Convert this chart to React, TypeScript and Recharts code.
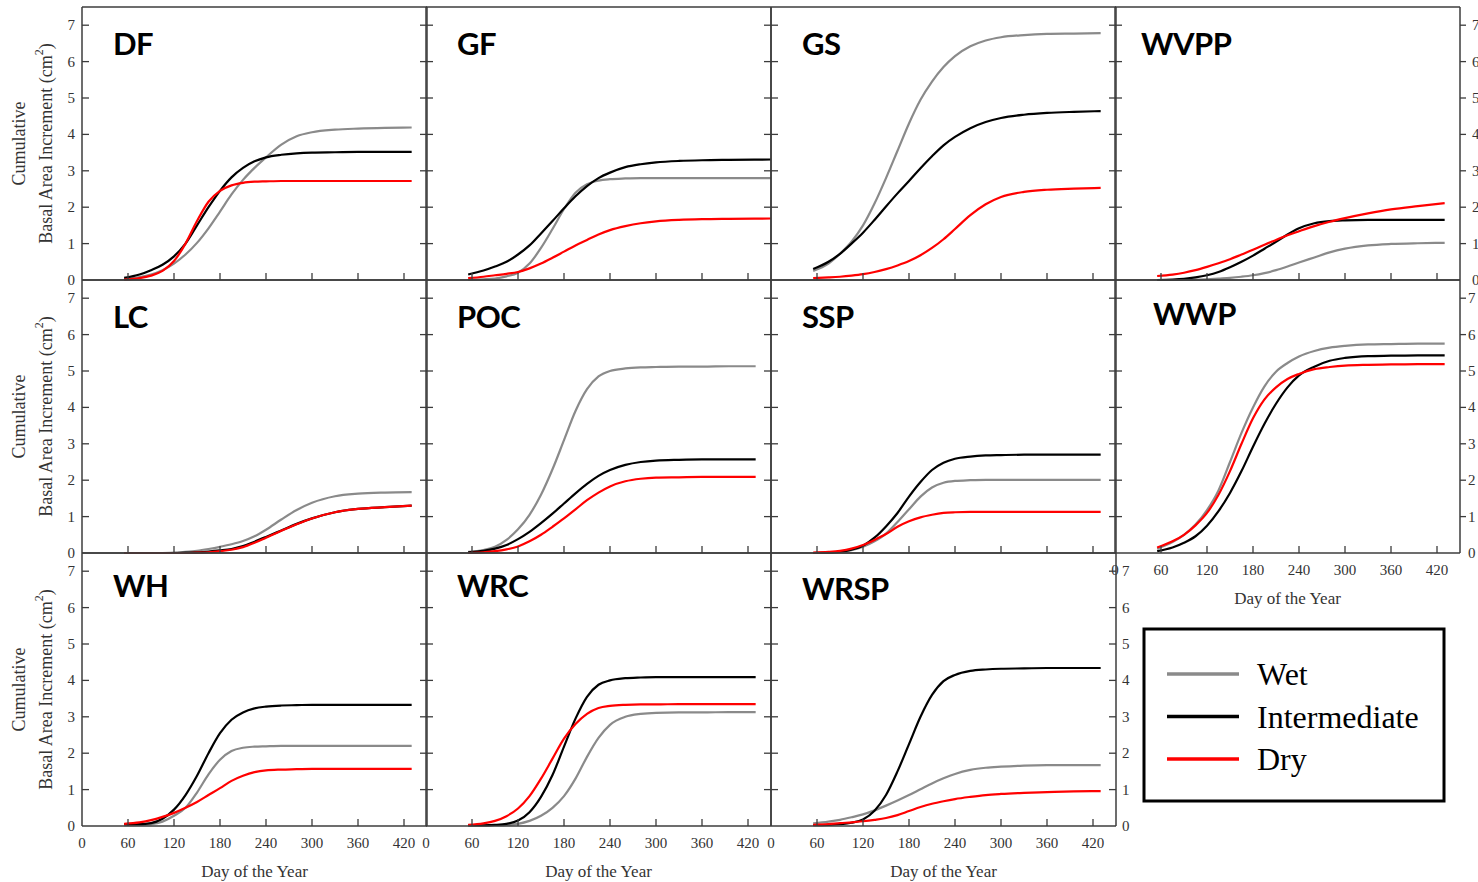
import React from "react";
import { LineChart, Line, XAxis, YAxis } from "recharts";

// sample days (x); GF runs to the frame
const days = [55, 75, 90, 105, 120, 135, 150, 165, 180, 195, 210, 225, 240, 260, 280, 300, 330, 360, 395, 430];
const daysGF = [55, 75, 90, 105, 120, 135, 150, 165, 180, 195, 210, 225, 240, 260, 280, 300, 330, 360, 395, 450];

const dayTicks = [0, 60, 120, 180, 240, 300, 360, 420];
const baiTicks = [0, 1, 2, 3, 4, 5, 6, 7];

const seriesNames = ["Wet", "Intermediate", "Dry"];
const seriesColors = ["#8a8a8a", "#000000", "#ff0000"];

// cumulative basal area increment (cm2)
const dfWet = [0.03, 0.08, 0.15, 0.27, 0.45, 0.7, 1.02, 1.42, 1.88, 2.35, 2.75, 3.08, 3.37, 3.72, 3.95, 4.06, 4.13, 4.16, 4.18, 4.19];
const dfMid = [0.06, 0.15, 0.27, 0.42, 0.65, 1.0, 1.5, 2.0, 2.45, 2.82, 3.08, 3.26, 3.37, 3.44, 3.48, 3.5, 3.51, 3.52, 3.52, 3.52];
const dfDry = [0.01, 0.05, 0.12, 0.25, 0.52, 1.0, 1.62, 2.15, 2.45, 2.6, 2.67, 2.7, 2.71, 2.72, 2.72, 2.72, 2.72, 2.72, 2.72, 2.72];

const gfWet = [0.01, 0.02, 0.04, 0.1, 0.2, 0.45, 0.88, 1.4, 1.95, 2.4, 2.63, 2.73, 2.77, 2.79, 2.8, 2.8, 2.8, 2.8, 2.8, 2.8];
const gfMid = [0.15, 0.26, 0.37, 0.5, 0.7, 0.95, 1.28, 1.62, 1.97, 2.3, 2.58, 2.8, 2.95, 3.1, 3.18, 3.23, 3.27, 3.29, 3.3, 3.31];
const gfDry = [0.05, 0.09, 0.13, 0.17, 0.22, 0.32, 0.45, 0.61, 0.78, 0.95, 1.1, 1.25, 1.37, 1.48, 1.56, 1.61, 1.65, 1.67, 1.68, 1.69];

const gsWet = [0.25, 0.45, 0.72, 1.05, 1.5, 2.1, 2.8, 3.55, 4.3, 4.95, 5.45, 5.85, 6.15, 6.42, 6.58, 6.67, 6.73, 6.76, 6.77, 6.78];
const gsMid = [0.3, 0.5, 0.72, 1.0, 1.3, 1.65, 2.02, 2.38, 2.72, 3.07, 3.4, 3.7, 3.93, 4.17, 4.34, 4.45, 4.54, 4.59, 4.62, 4.64];
const gsDry = [0.05, 0.07, 0.09, 0.12, 0.16, 0.22, 0.3, 0.4, 0.52, 0.68, 0.88, 1.12, 1.4, 1.78, 2.08, 2.28, 2.42, 2.48, 2.51, 2.53];

const wvppWet = [0, 0, 0, 0.01, 0.02, 0.04, 0.06, 0.09, 0.13, 0.19, 0.27, 0.37, 0.48, 0.62, 0.76, 0.86, 0.95, 0.99, 1.01, 1.02];
const wvppMid = [0, 0.01, 0.03, 0.07, 0.13, 0.22, 0.35, 0.5, 0.67, 0.86, 1.05, 1.25, 1.42, 1.56, 1.62, 1.64, 1.65, 1.65, 1.65, 1.65];
const wvppDry = [0.11, 0.15, 0.2, 0.27, 0.36, 0.46, 0.57, 0.7, 0.83, 0.97, 1.1, 1.23, 1.34, 1.48, 1.6, 1.7, 1.83, 1.94, 2.03, 2.11];

const lcWet = [0, 0, 0, 0, 0.01, 0.03, 0.06, 0.11, 0.17, 0.24, 0.33, 0.46, 0.64, 0.92, 1.18, 1.38, 1.56, 1.63, 1.66, 1.67];
const lcMid = [0, 0, 0, 0, 0, 0.01, 0.02, 0.04, 0.07, 0.11, 0.19, 0.31, 0.44, 0.62, 0.8, 0.95, 1.12, 1.21, 1.26, 1.3];
const lcDry = [0, 0, 0, 0, 0, 0, 0.01, 0.02, 0.05, 0.09, 0.16, 0.28, 0.42, 0.61, 0.79, 0.95, 1.12, 1.21, 1.26, 1.3];

const pocWet = [0.03, 0.08, 0.17, 0.36, 0.65, 1.05, 1.6, 2.3, 3.1, 3.9, 4.5, 4.85, 5.0, 5.07, 5.1, 5.11, 5.12, 5.12, 5.13, 5.13];
const pocMid = [0.02, 0.06, 0.12, 0.22, 0.38, 0.58, 0.82, 1.08, 1.36, 1.64, 1.9, 2.12, 2.28, 2.42, 2.5, 2.54, 2.56, 2.57, 2.57, 2.57];
const pocDry = [0, 0.02, 0.05, 0.1, 0.18, 0.32, 0.5, 0.72, 0.95, 1.2, 1.45, 1.66, 1.83, 1.97, 2.04, 2.07, 2.08, 2.09, 2.09, 2.09];

const sspWet = [0, 0.01, 0.03, 0.08, 0.17, 0.32, 0.53, 0.85, 1.2, 1.55, 1.8, 1.93, 1.98, 2.0, 2.01, 2.01, 2.01, 2.01, 2.01, 2.01];
const sspMid = [0, 0.01, 0.03, 0.09, 0.2, 0.42, 0.73, 1.1, 1.55, 1.95, 2.28, 2.48, 2.59, 2.65, 2.68, 2.69, 2.7, 2.7, 2.7, 2.7];
const sspDry = [0.01, 0.03, 0.06, 0.12, 0.22, 0.36, 0.52, 0.72, 0.87, 0.98, 1.05, 1.1, 1.12, 1.13, 1.13, 1.13, 1.13, 1.13, 1.13, 1.13];

const wwpWet = [0.12, 0.3, 0.5, 0.78, 1.18, 1.72, 2.5, 3.3, 4.0, 4.58, 4.98, 5.22, 5.4, 5.55, 5.64, 5.69, 5.73, 5.74, 5.75, 5.75];
const wwpMid = [0.05, 0.15, 0.28, 0.46, 0.75, 1.15, 1.65, 2.25, 2.92, 3.55, 4.1, 4.55, 4.88, 5.12, 5.28, 5.36, 5.41, 5.42, 5.43, 5.43];
const wwpDry = [0.15, 0.32, 0.5, 0.76, 1.1, 1.6, 2.25, 3.0, 3.7, 4.22, 4.55, 4.78, 4.92, 5.05, 5.11, 5.15, 5.17, 5.18, 5.19, 5.19];

const whWet = [0.02, 0.03, 0.05, 0.12, 0.28, 0.5, 0.92, 1.42, 1.82, 2.06, 2.15, 2.18, 2.19, 2.2, 2.2, 2.2, 2.2, 2.2, 2.2, 2.2];
const whMid = [0.05, 0.05, 0.08, 0.2, 0.45, 0.85, 1.38, 2.0, 2.55, 2.92, 3.12, 3.23, 3.28, 3.31, 3.32, 3.33, 3.33, 3.33, 3.33, 3.33];
const whDry = [0.06, 0.1, 0.16, 0.25, 0.36, 0.5, 0.66, 0.85, 1.04, 1.24, 1.38, 1.48, 1.53, 1.55, 1.56, 1.57, 1.57, 1.57, 1.57, 1.57];

const wrcWet = [0.01, 0.01, 0.02, 0.03, 0.06, 0.14, 0.28, 0.5, 0.82, 1.3, 1.9, 2.42, 2.78, 3.0, 3.08, 3.11, 3.12, 3.12, 3.13, 3.13];
const wrcMid = [0.02, 0.02, 0.03, 0.06, 0.15, 0.38, 0.8, 1.4, 2.18, 2.95, 3.55, 3.88, 4.0, 4.06, 4.08, 4.09, 4.09, 4.09, 4.09, 4.09];
const wrcDry = [0.03, 0.07, 0.14, 0.27, 0.48, 0.82, 1.3, 1.85, 2.4, 2.8, 3.08, 3.24, 3.3, 3.33, 3.34, 3.34, 3.35, 3.35, 3.35, 3.35];

const wrspWet = [0.07, 0.12, 0.17, 0.24, 0.32, 0.43, 0.56, 0.7, 0.85, 1.01, 1.17, 1.31, 1.43, 1.54, 1.6, 1.63, 1.66, 1.67, 1.67, 1.67];
const wrspMid = [0.02, 0.03, 0.05, 0.09, 0.18, 0.42, 0.85, 1.5, 2.25, 3.0, 3.6, 3.98, 4.15, 4.26, 4.3, 4.32, 4.33, 4.34, 4.34, 4.34];
const wrspDry = [0.03, 0.05, 0.08, 0.1, 0.13, 0.17, 0.22, 0.3, 0.41, 0.52, 0.61, 0.68, 0.74, 0.8, 0.85, 0.88, 0.91, 0.93, 0.95, 0.96];

type Panel = {
  name: string;
  col: number;
  row: number;
  x: number[];
  wet: number[];
  mid: number[];
  dry: number[];
  leftLabels?: boolean;
  rightLabels?: boolean;
  rightOut?: boolean;
  rightGap?: number;
  xLabels?: boolean;
  tdx?: number;
  tdy?: number;
};

const panels: Panel[] = [
  { name: "DF", col: 0, row: 0, x: days, wet: dfWet, mid: dfMid, dry: dfDry, leftLabels: true },
  { name: "GF", col: 1, row: 0, x: daysGF, wet: gfWet, mid: gfMid, dry: gfDry },
  { name: "GS", col: 2, row: 0, x: days, wet: gsWet, mid: gsMid, dry: gsDry },
  { name: "WVPP", col: 3, row: 0, x: days, wet: wvppWet, mid: wvppMid, dry: wvppDry, rightLabels: true, rightOut: true, rightGap: 12, tdx: 26 },
  { name: "LC", col: 0, row: 1, x: days, wet: lcWet, mid: lcMid, dry: lcDry, leftLabels: true },
  { name: "POC", col: 1, row: 1, x: days, wet: pocWet, mid: pocMid, dry: pocDry },
  { name: "SSP", col: 2, row: 1, x: days, wet: sspWet, mid: sspMid, dry: sspDry },
  { name: "WWP", col: 3, row: 1, x: days, wet: wwpWet, mid: wwpMid, dry: wwpDry, rightLabels: true, rightOut: true, rightGap: 8, xLabels: true, tdx: 38, tdy: 45 },
  { name: "WH", col: 0, row: 2, x: days, wet: whWet, mid: whMid, dry: whDry, leftLabels: true, xLabels: true, tdy: 44 },
  { name: "WRC", col: 1, row: 2, x: days, wet: wrcWet, mid: wrcMid, dry: wrcDry, xLabels: true, tdy: 44 },
  { name: "WRSP", col: 2, row: 2, x: days, wet: wrspWet, mid: wrspMid, dry: wrspDry, rightLabels: true, rightGap: 6, xLabels: true, tdy: 47 },
];

const COL_X = [82, 426, 771, 1115];
const ROW_Y = [7, 280, 553];
const PW = 345;
const PH = 273;
const PAD = 44;
const FRAME = "#3c3c3c";
const TICK = 7;
const serif = "'Liberation Serif', 'Times New Roman', serif";

const LeftTick = (props: any) => {
  const { x, y, payload, show } = props;
  return (
    <g>
      {payload.value !== 0 && <line x1={x} x2={x + TICK} y1={y} y2={y} stroke={FRAME} strokeWidth={1.3} />}
      {show && (
        <text x={x - 7} y={y} textAnchor="end" dominantBaseline="central" fontFamily={serif} fontSize={15} fill="#333">
          {payload.value}
        </text>
      )}
    </g>
  );
};

// right-hand ticks: pointing into the panel, or outward on the outer frame
const makeRightTick = (show: boolean, out: boolean, gap: number) => (props: any) => {
  const { x, y, payload } = props;
  const x2 = out ? x + 6 : x - TICK;
  return (
    <g>
      {payload.value !== 0 && <line x1={x} x2={x2} y1={y} y2={y} stroke={FRAME} strokeWidth={1.3} />}
      {show ? (
        <text x={x + gap} y={y} textAnchor="start" dominantBaseline="central" fontFamily={serif} fontSize={15} fill="#333">
          {String(payload.value)}
        </text>
      ) : null}
    </g>
  );
};

const BottomTick = (props: any) => {
  const { x, y, payload, show } = props;
  return (
    <g>
      {payload.value !== 0 && <line x1={x} x2={x} y1={y} y2={y - TICK} stroke={FRAME} strokeWidth={1.3} />}
      {show && (
        <text x={x} y={y + 17} textAnchor="middle" dominantBaseline="central" fontFamily={serif} fontSize={15} fill="#333">
          {payload.value}
        </text>
      )}
    </g>
  );
};

const PanelChart = ({ p }: { p: Panel }) => {
  const data = p.x.map((d, i) => ({ day: d, wet: p.wet[i], mid: p.mid[i], dry: p.dry[i] }));
  const left = COL_X[p.col];
  const top = ROW_Y[p.row];
  const frame = { stroke: FRAME, strokeWidth: 1.5 };
  const rightTick = makeRightTick(!!p.rightLabels, !!p.rightOut, p.rightGap ?? 6);
  return (
    <div style={{ position: "absolute", left: left - PAD, top: top - PAD }}>
      <LineChart width={PW + 2 * PAD} height={PH + 2 * PAD} data={data} margin={{ top: 0, right: 0, bottom: 0, left: 0 }}>
        <XAxis
          xAxisId="b"
          dataKey="day"
          type="number"
          domain={[0, 450]}
          ticks={dayTicks}
          interval={0}
          height={PAD}
          tickSize={0}
          tickMargin={0}
          tickLine={false}
          axisLine={frame}
          tick={(t: any) => <BottomTick {...t} show={!!p.xLabels} />}
        />
        <XAxis xAxisId="t" orientation="top" type="number" domain={[0, 450]} height={PAD} tick={false} tickLine={false} axisLine={frame} />
        <YAxis
          yAxisId="l"
          type="number"
          domain={[0, 7.5]}
          ticks={baiTicks}
          interval={0}
          width={PAD}
          tickSize={0}
          tickMargin={0}
          tickLine={false}
          axisLine={frame}
          tick={(t: any) => <LeftTick {...t} show={!!p.leftLabels} />}
        />
        <YAxis
          yAxisId="r"
          orientation="right"
          type="number"
          domain={[0, 7.5]}
          ticks={baiTicks}
          interval={0}
          width={PAD}
          tickSize={0}
          tickMargin={0}
          tickLine={false}
          axisLine={frame}
          tick={rightTick}
        />
        <Line xAxisId="b" yAxisId="l" type="monotone" dataKey="wet" name={seriesNames[0]} stroke={seriesColors[0]} strokeWidth={2.2} dot={false} isAnimationActive={false} />
        <Line xAxisId="b" yAxisId="l" type="monotone" dataKey="mid" name={seriesNames[1]} stroke={seriesColors[1]} strokeWidth={2.2} dot={false} isAnimationActive={false} />
        {/* same 0-7.5 scale on both sides; bind one series to the right axis so it gets ticks */}
        <Line xAxisId="b" yAxisId="r" type="monotone" dataKey="dry" name={seriesNames[2]} stroke={seriesColors[2]} strokeWidth={2.2} dot={false} isAnimationActive={false} />
      </LineChart>
    </div>
  );
};

export default function App() {
  const xTitles = panels.filter((p) => p.xLabels);
  const yTitles = panels.filter((p) => p.leftLabels);
  return (
    <div style={{ position: "absolute", left: 0, top: 0, width: 1478, height: 882, overflow: "hidden", background: "#fff" }}>
      {panels.map((p) => (
        <PanelChart key={p.name} p={p} />
      ))}
      <svg width={1478} height={882} style={{ position: "absolute", left: 0, top: 0, pointerEvents: "none" }}>
        {panels.map((p) => (
          <text
            key={p.name}
            x={COL_X[p.col] + (p.tdx ?? 31)}
            y={ROW_Y[p.row] + (p.tdy ?? 48)}
            fontFamily="Lato, 'Open Sans', sans-serif"
            fontWeight={700}
            fontSize={31}
            letterSpacing={-0.5}
            fill="#000"
          >
            {p.name}
          </text>
        ))}
        {xTitles.map((p) => (
          <text
            key={"x" + p.name}
            x={COL_X[p.col] + PW / 2}
            y={ROW_Y[p.row] + PH + 45}
            textAnchor="middle"
            dominantBaseline="central"
            fontFamily={serif}
            fontSize={17}
            fill="#333"
          >
            Day of the Year
          </text>
        ))}
        {yTitles.map((p) => {
          const cy = ROW_Y[p.row] + PH / 2;
          return (
            <g key={"y" + p.name} fontFamily={serif} fontSize={18} fill="#333">
              <text transform={`translate(19,${cy}) rotate(-90)`} textAnchor="middle" dominantBaseline="central">
                Cumulative
              </text>
              <text transform={`translate(46,${cy}) rotate(-90)`} textAnchor="middle" dominantBaseline="central">
                Basal Area Increment (cm<tspan dy={-7} fontSize={12}>2</tspan>
                <tspan dy={7}>)</tspan>
              </text>
            </g>
          );
        })}
        <rect x={1144} y={629} width={300} height={172} fill="none" stroke="#000" strokeWidth={3} />
        {seriesNames.map((n, i) => (
          <g key={n}>
            <line x1={1167} x2={1239} y1={674 + i * 42.5} y2={674 + i * 42.5} stroke={seriesColors[i]} strokeWidth={3.5} />
            <text x={1257} y={674 + i * 42.5} dominantBaseline="central" fontFamily={serif} fontSize={32} fill="#000">
              {n}
            </text>
          </g>
        ))}
      </svg>
    </div>
  );
}
